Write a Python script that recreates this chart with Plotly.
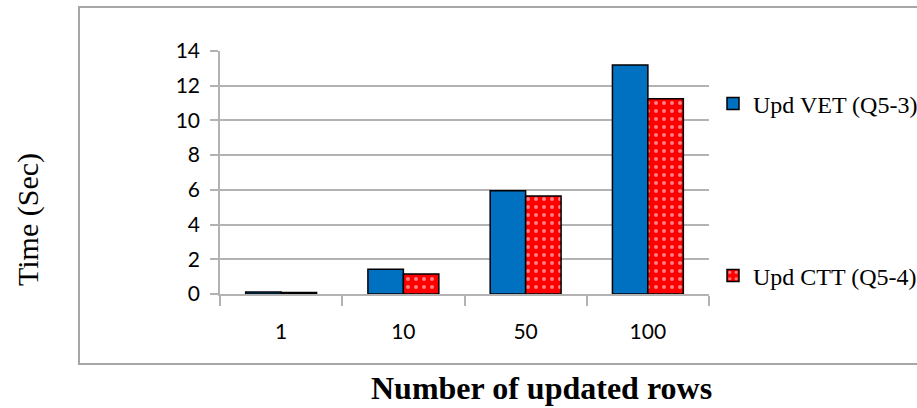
import plotly.graph_objects as go

# Update timings per number of updated rows
rows = ["1", "10", "50", "100"]
upd_vet = [0.12, 1.42, 5.95, 13.2]
upd_ctt = [0.08, 1.15, 5.65, 11.25]

W, H = 917, 408
L, R, T, B = 220, 208, 51, 114
pw, ph = W - L - R, H - T - B


def px(x):
    return (x - L) / pw


def py(y):
    return (H - B - y) / ph


fig = go.Figure()
fig.add_trace(go.Bar(
    x=rows, y=upd_vet, name="Upd VET (Q5-3)",
    marker=dict(color="#0070C0", line=dict(color="black", width=1.5)),
    legend="legend",
))
fig.add_trace(go.Bar(
    x=rows, y=upd_ctt, name="Upd CTT (Q5-4)",
    marker=dict(color="#FF0000", line=dict(color="black", width=1.5),
                pattern=dict(shape=".", fgcolor="white", bgcolor="#FF0000",
                             size=8, solidity=0.2, fillmode="overlay")),
    legend="legend2",
))

grid = "#B3B3B3"
serif = "Liberation Serif, Times New Roman, serif"
fig.update_layout(
    width=W, height=H,
    margin=dict(l=L, r=R, t=T, b=B, autoexpand=False),
    paper_bgcolor="white", plot_bgcolor="white",
    barmode="group", bargap=0.42, bargroupgap=0,
    font=dict(family="Lato, Open Sans, sans-serif", size=21, color="black"),
    xaxis=dict(
        type="category", showline=True, linecolor=grid, linewidth=1.5,
        ticks="outside", tickson="boundaries", ticklen=10, tickcolor=grid,
        tickwidth=1.5, ticklabelstandoff=18, showgrid=False,
        tickfont=dict(size=21),
    ),
    yaxis=dict(
        range=[0, 14], dtick=2, showline=True, linecolor=grid, linewidth=1.5,
        showgrid=True, gridcolor=grid, gridwidth=1.5,
        ticks="outside", ticklen=8, tickcolor=grid, tickwidth=1.5,
        ticklabelstandoff=6, zeroline=False, tickfont=dict(size=21),
    ),
    showlegend=True,
    legend=dict(x=px(713), y=py(104), xanchor="left", yanchor="middle",
                font=dict(family=serif, size=24),
                bgcolor="rgba(0,0,0,0)", itemwidth=30),
    legend2=dict(x=px(713), y=py(276), xanchor="left", yanchor="middle",
                 font=dict(family=serif, size=24),
                 bgcolor="rgba(0,0,0,0)", itemwidth=30),
    shapes=[dict(type="rect", xref="paper", yref="paper",
                 x0=px(79), x1=px(919), y0=py(364), y1=py(7),
                 line=dict(color="#A6A6A6", width=2), layer="below")],
    annotations=[
        dict(text="Time (Sec)", xref="paper", yref="paper",
             x=px(28), y=py(220), xanchor="center", yanchor="middle",
             textangle=-90, showarrow=False,
             font=dict(family=serif, size=30)),
        dict(text="<b>Number of updated rows</b>", xref="paper", yref="paper",
             x=px(541), y=py(388), xanchor="center", yanchor="middle",
             showarrow=False, font=dict(family=serif, size=32)),
    ],
)

fig.write_html("out.html")
